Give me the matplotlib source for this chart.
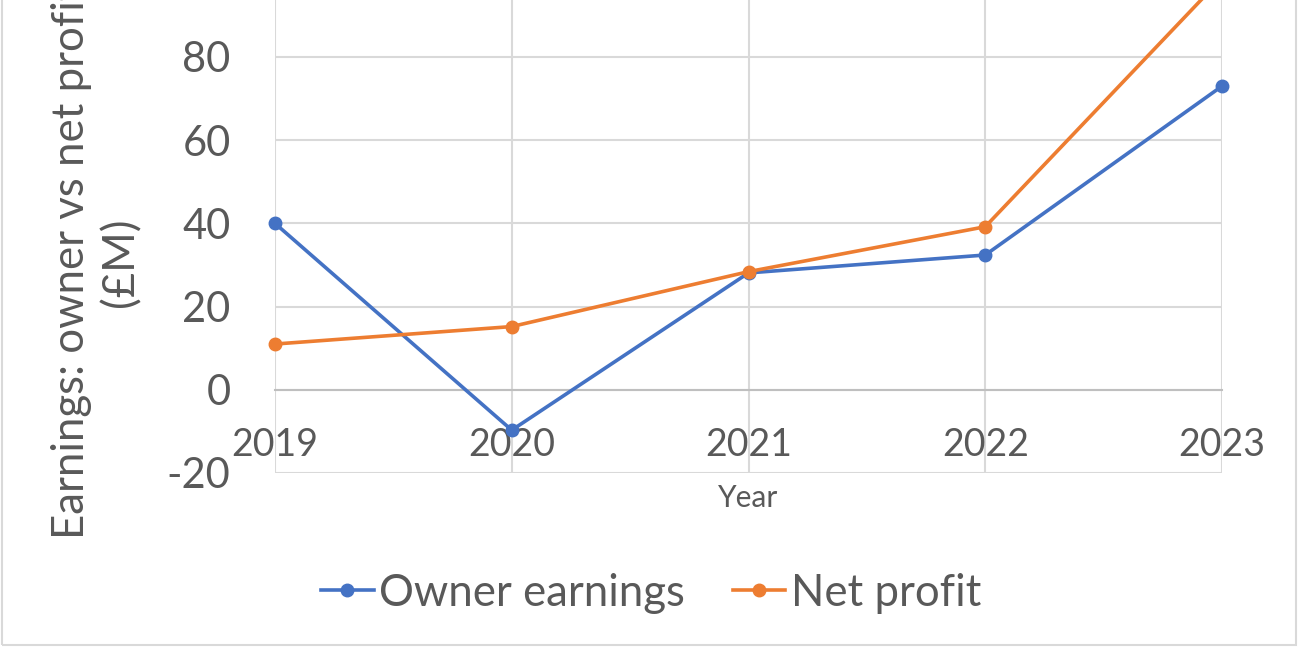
import matplotlib
matplotlib.use('Agg')
import matplotlib.pyplot as plt
from matplotlib.patches import Rectangle

years = [2019, 2020, 2021, 2022, 2023]
owner_earnings = [40, -9.7, 28.1, 32.4, 73]
net_profit = [11, 15.2, 28.4, 39.2, 99]

plt.rcParams['font.family'] = ['Lato', 'DejaVu Sans']
plt.rcParams['axes.unicode_minus'] = False
txt = '#595959'
grid = '#d9d9d9'

fig = plt.figure(figsize=(13, 6.5), dpi=100)
ax = fig.add_axes([275/1300, 1 - 473/650, (1222-275)/1300, 473/650])

ax.plot(years, owner_earnings, color='#4472C4', lw=2.6, marker='o', ms=9,
        label='Owner earnings', clip_on=False, zorder=3)
ax.plot(years, net_profit, color='#ED7D31', lw=2.6, marker='o', ms=9,
        label='Net profit', clip_on=False, zorder=3)

ax.set_xlim(2019, 2023)
ax.set_ylim(-20, 93.7)
ax.set_yticks([-20, 0, 20, 40, 60, 80])
ax.set_xticks(years)

# category axis crosses at zero, labels sit just below it
ax.spines['bottom'].set_position(('data', 0))
ax.spines['bottom'].set_color('#bfbfbf')
ax.spines['bottom'].set_linewidth(1.5)
for s in ['top', 'right', 'left']:
    ax.spines[s].set_visible(False)
ax.grid(True, color=grid, lw=1.5, zorder=0)
ax.set_axisbelow(True)
ax.tick_params(axis='x', length=0, pad=27, labelsize=27, labelcolor=txt)
ax.tick_params(axis='y', length=0, pad=32, labelsize=30, labelcolor=txt)

fig.text(748/1300, 1 - 498/650, 'Year', ha='center', va='center', fontsize=21.5, color=txt)
# the reference crops the top of this label, kept the same way
fig.text(96/1300, 1 - 262/650, 'Earnings: owner vs net profit\n(£M)', rotation=90,
         ha='center', va='center', fontsize=31.5, color=txt, linespacing=1.25,
         multialignment='center')

fig.legend(loc='center', bbox_to_anchor=(651/1300, 1 - 593/650), ncol=2, frameon=False,
           fontsize=31.5, labelcolor=txt, handlelength=1.2, handletextpad=0.12,
           columnspacing=1.1)

# chart area border
fig.add_artist(Rectangle((2/1300, 1 - 645/650), 1294/1300, 1, transform=fig.transFigure,
                         fill=False, edgecolor=grid, lw=1.5))

fig.savefig('out.png', dpi=100)
